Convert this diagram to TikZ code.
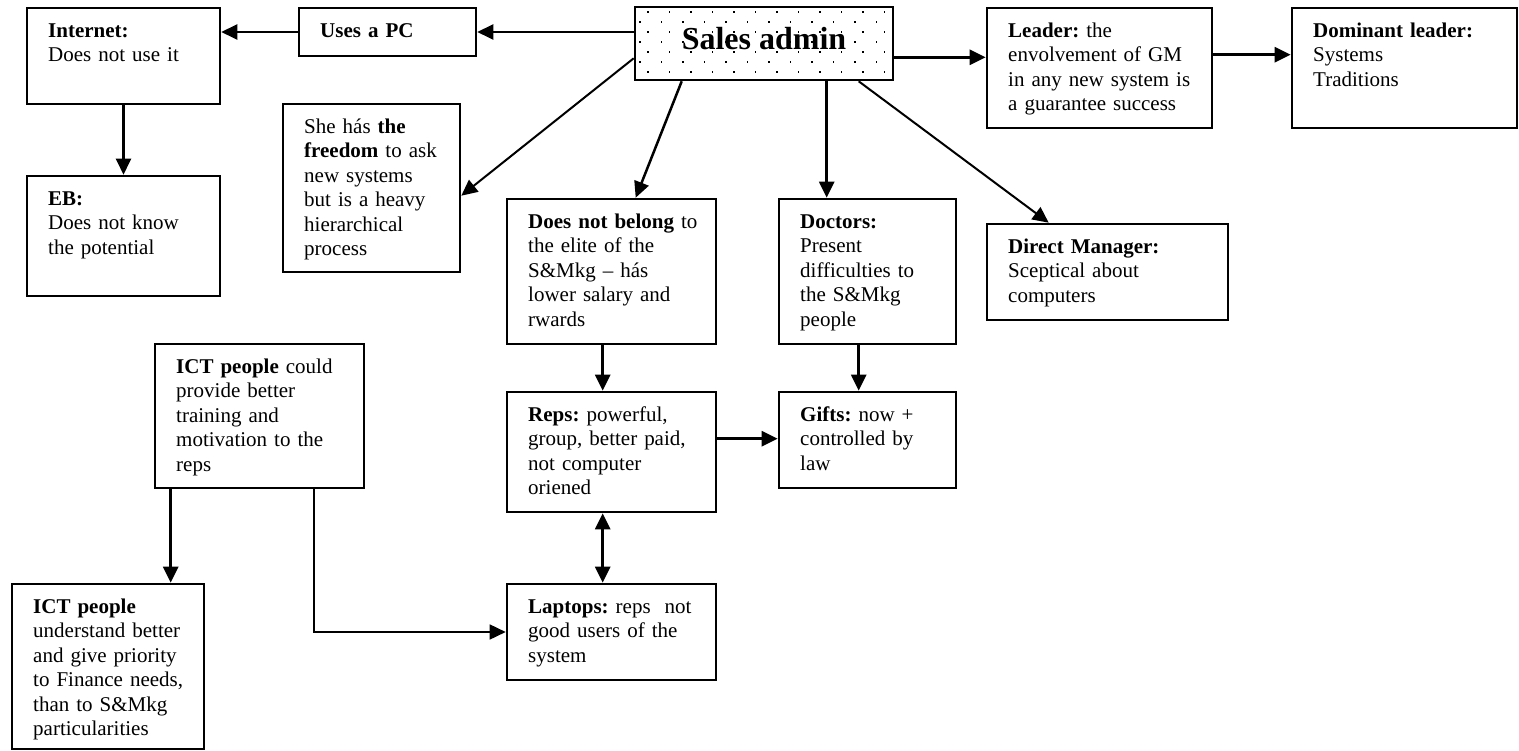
\documentclass[tikz,border=0pt]{standalone}
\usepackage{fontspec}
\setmainfont{Liberation Serif}
\usetikzlibrary{arrows.meta,calc}
\frenchspacing

% A framed box with its text set from the top-left corner
\newcommand\flowbox[6]{%
  \pgfmathsetmacro\boxw{#4-#2}%
  \pgfmathsetmacro\boxh{#5-#3}%
  \pgfmathsetmacro\txtw{#4-#2-30}%
  \node[frame, minimum width=\boxw pt, minimum height=\boxh pt] (#1) at ({(#2+#4)/2},{(#3+#5)/2}) {};
  \node[boxtext, text width=\txtw pt] (#1-txt) at ({#2+21},{#3+29.5}) {#6};
}

\begin{document}
\begin{tikzpicture}[x=1pt,y=-1pt,
  frame/.style={draw, line width=2.6pt, inner sep=0pt, rectangle},
  boxtext/.style={anchor=base west, inner sep=0pt, align=left,
    font=\fontsize{21}{24.4}\selectfont},
  tip/.style={},
  arr/.style={-{Triangle[length=16pt,width=15pt]}, line width=2.5pt},
  thinarr/.style={-{Triangle[length=16pt,width=15pt]}, line width=2pt},
  dblarr/.style={{Triangle[length=16pt,width=15pt]}-{Triangle[length=16pt,width=15pt]}, line width=2.5pt}]

\fill[white] (0,0) rectangle (1519,751);
\useasboundingbox (0,0) rectangle (1519,751);

% central node with a dotted fill
\node[frame, fill=white, minimum width=258pt, minimum height=73pt] (SA) at (764,43.5) {};
\foreach \r in {0,...,6}{
  \pgfmathsetmacro\rowy{12+10*\r}
  \pgfmathsetmacro\rowx{mod(\r,2)==0 ? 648 : 640}
  \foreach \k in {0,...,11}{
    \pgfmathsetmacro\dotx{\rowx+21.5*\k}
    \ifdim\dotx pt<889pt
      \fill (\dotx-0.8,\rowy-0.8) rectangle ++(1.6,1.6);
    \fi
  }
}
\node[anchor=base, inner sep=0pt, font=\fontsize{32}{38}\selectfont\bfseries] (SA-txt) at (764,50) {Sales admin};

% boxes
\flowbox{Int}{27}{8}{220}{104}{\textbf{Internet:}\\Does not use it}
\flowbox{PC}{299}{8}{476}{56}{\textbf{Uses a PC}}
\flowbox{Lead}{987}{8}{1212}{128}{\textbf{Leader:} the\\envolvement of GM\\in any new system is\\a guarantee success}
\flowbox{Dom}{1292}{8}{1517}{128}{\textbf{Dominant leader:}\\Systems\\Traditions}
\flowbox{EB}{27}{176}{220}{296}{\textbf{EB:}\\Does not know\\the potential}
\flowbox{She}{283}{104}{460}{272}{She hás \textbf{the}\\\textbf{freedom} to ask\\new systems\\but is a heavy\\hierarchical\\process}
\flowbox{DNB}{507}{199}{716}{344}{\textbf{Does not belong} to\\the elite of the\\S\&Mkg – hás\\lower salary and\\rwards}
\flowbox{Doc}{779}{199}{956}{344}{\textbf{Doctors:}\\Present\\difficulties to\\the S\&Mkg\\people}
\flowbox{DM}{987}{224}{1228}{320}{\textbf{Direct Manager:}\\Sceptical about\\computers}
\flowbox{ICTa}{155}{344}{364}{488}{\textbf{ICT people} could\\provide better\\training and\\motivation to the\\reps}
\flowbox{Reps}{507}{392}{716}{512}{\textbf{Reps:} powerful,\\group, better paid,\\not computer\\oriened}
\flowbox{Gifts}{779}{392}{956}{488}{\textbf{Gifts:} now +\\controlled by\\law}
\flowbox{ICTb}{12}{584}{204}{749}{\textbf{ICT people}\\understand better\\and give priority\\to Finance needs,\\than to S\&Mkg\\particularities}
\flowbox{Lap}{507}{584}{716}{680}{\textbf{Laptops:} reps~ not\\good users of the\\system}

% connectors
\draw[arr] (SA.west |- PC.east) -- (PC.east);
\draw[arr] (PC.west) -- (PC.west -| Int.east);
\draw[arr] (Int.south) -- (EB.north);
\draw[thinarr] ($(SA.south west)+(0,-23)$) -- ($(She.north east)+(0,93)$);
\draw[arr] ($(SA.south west)+(48,0)$) -- ($(DNB.north west)+(130,0)$);
\coordinate (docin) at ($(Doc.north west)+(49,0)$);
\draw[arr] (docin |- SA.south) -- (docin);
\draw[thinarr] ($(SA.south west)+(225,0)$) -- ($(DM.north west)+(63,0)$);
\coordinate (saright) at ($(SA.south east)+(0,-24)$);
\draw[arr] (saright) -- (saright -| Lead.west);
\coordinate (ldright) at ($(Lead.north east)+(0,48)$);
\draw[arr] (ldright) -- (ldright -| Dom.west);
\coordinate (dnbout) at ($(DNB.south west)+(97,0)$);
\draw[arr] (dnbout) -- (dnbout |- Reps.north);
\coordinate (docout) at ($(Doc.south west)+(81,0)$);
\draw[arr] (docout) -- (docout |- Gifts.north);
\coordinate (repsout) at ($(Reps.north east)+(0,48)$);
\draw[arr] (repsout) -- (repsout -| Gifts.west);
\coordinate (repslow) at ($(Reps.south west)+(97,0)$);
\draw[dblarr] (repslow) -- (repslow |- Lap.north);
\coordinate (ictdown) at ($(ICTa.south west)+(17,0)$);
\draw[arr] (ictdown) -- (ictdown |- ICTb.north);
\coordinate (ictlap) at ($(ICTa.south west)+(160,0)$);
\draw[arr, line width=1.6pt] (ictlap) |- (Lap.west);

\end{tikzpicture}
\end{document}
